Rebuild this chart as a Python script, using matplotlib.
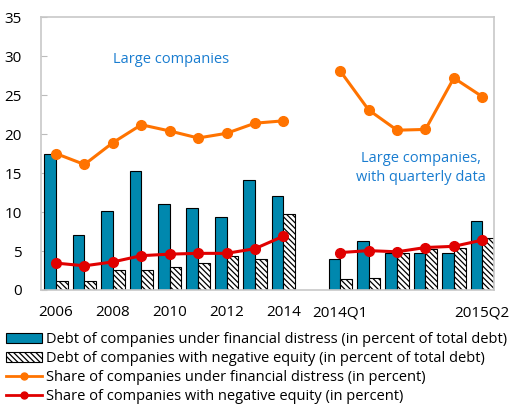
import matplotlib
matplotlib.use("Agg")
import matplotlib.pyplot as plt
import numpy as np
from matplotlib.patches import Patch
from matplotlib.lines import Line2D

plt.rcParams['font.family'] = ['Open Sans', 'DejaVu Sans']
plt.rcParams['hatch.color'] = '#555555'
plt.rcParams['hatch.linewidth'] = 0.9

categories = ["2006", "2007", "2008", "2009", "2010", "2011", "2012", "2013", "2014", "",
              "2014Q1", "2014Q2", "2014Q3", "2014Q4", "2015Q1", "2015Q2"]
tick_labels = ["2006", "", "2008", "", "2010", "", "2012", "", "2014", "",
               "2014Q1", "", "", "", "", "2015Q2"]

debt_distress = [17.4, 7.1, 10.1, 15.3, 11.0, 10.5, 9.4, 14.1, 12.1, np.nan,
                 4.0, 6.3, 4.8, 4.8, 4.7, 8.8]
debt_negeq = [1.1, 1.1, 2.6, 2.6, 2.9, 3.4, 4.3, 4.0, 9.8, np.nan,
              1.4, 1.6, 4.7, 5.2, 5.45, 6.7]
share_distress = [17.5, 16.1, 18.9, 21.2, 20.4, 19.5, 20.1, 21.4, 21.7, np.nan,
                  28.1, 23.1, 20.5, 20.6, 27.2, 24.8]
share_negeq = [3.45, 3.1, 3.6, 4.4, 4.6, 4.7, 4.7, 5.3, 6.9, np.nan,
               4.8, 5.05, 4.9, 5.45, 5.6, 6.4]

blue = '#0088AE'
orange = '#FF7300'
red = '#E00000'
txtblue = '#1A7DD0'

fig = plt.figure(figsize=(5.24, 4.09), dpi=100)
ax = fig.add_axes([0.0782, 0.291, 0.865, 0.667])

x = np.arange(len(categories))
w = 0.41
ax.bar(x - w/2, debt_distress, w, color=blue, edgecolor='black', linewidth=0.8, zorder=2)
ax.bar(x + w/2, debt_negeq, w, color='white', edgecolor='black', linewidth=0.8,
       hatch='\\\\\\\\\\\\', zorder=2)
ax.plot(x, share_distress, color=orange, lw=2.2, marker='o', ms=7, zorder=3)
ax.plot(x, share_negeq, color=red, lw=2.2, marker='o', ms=7, zorder=3)

ax.set_xlim(-0.53, 15.42)
ax.set_ylim(0, 35)
ax.set_yticks(np.arange(0, 36, 5))
ax.set_xticks(x)
ax.set_xticklabels(tick_labels)
ax.tick_params(axis='y', direction='in', length=4, color='#BBBBBB', labelsize=11, pad=14)
ax.tick_params(axis='x', length=0, labelsize=11, pad=11)
for s in ax.spines.values():
    s.set_color('#C8C8C8')
    s.set_linewidth(1.2)

ax.text(4.05, 29.6, "Large companies", color=txtblue, fontsize=10.5, ha='center', va='center')
ax.text(12.85, 15.6, "Large companies,\nwith quarterly data", color=txtblue, fontsize=10.5,
        ha='center', va='center', linespacing=1.35)

handles = [
    Patch(facecolor=blue, edgecolor='black', linewidth=0.8),
    Patch(facecolor='white', edgecolor='black', linewidth=0.8, hatch='\\\\\\\\\\\\'),
    Line2D([0], [0], color=orange, lw=2, marker='o', ms=5),
    Line2D([0], [0], color=red, lw=2, marker='o', ms=5),
]
labels = [
    "Debt of companies under financial distress (in percent of total debt)",
    "Debt of companies with negative equity (in percent of total debt)",
    "Share of companies under financial distress (in percent)",
    "Share of companies with negative equity (in percent)",
]
fig.legend(handles, labels, loc='upper left', bbox_to_anchor=(0.005, 0.195),
           frameon=False, fontsize=10.5, handlelength=2.5, handletextpad=0.3,
           labelspacing=0.28, borderaxespad=0, borderpad=0.2)

fig.savefig("out.png", dpi=100)
